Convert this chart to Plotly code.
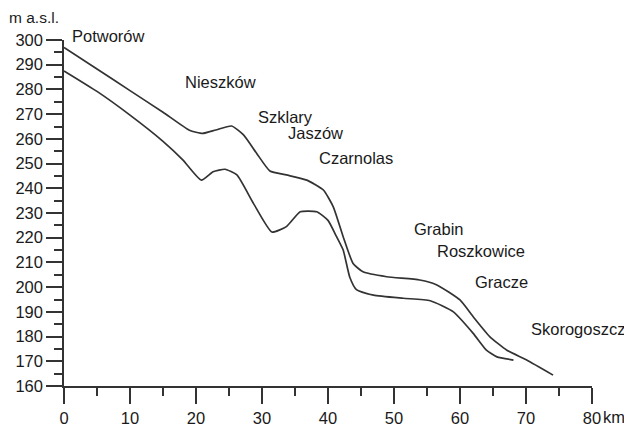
import plotly.graph_objects as go

# Upper profile (km, m a.s.l.)
upper_km = [0, 5, 10, 15, 19, 21, 23, 25.4, 27.2, 29.2, 31.2, 33.7, 36.8, 39.3, 40.8, 42.3,
            43.8, 45.3, 48.9, 53.9, 56.5, 60, 62, 64.5, 67.1, 70.1, 74.1]
upper_m = [297, 288.3, 279.5, 270.8, 263.5, 262.2, 263.6, 265.2, 261.6, 254.1, 247, 245.4,
           243.3, 239.3, 232.5, 220.4, 209.6, 206.2, 204.2, 202.9, 200.9, 194.8, 188, 180,
           174.5, 170.5, 164.4]

# Lower profile (km, m a.s.l.)
lower_km = [0, 5, 10, 15, 18, 20.8, 22.6, 24.4, 26.2, 28.7, 31.5, 33.7, 35.8, 38.3, 40,
            41.3, 42.3, 43.3, 44.3, 46.9, 51.4, 55.5, 59, 62, 64, 65.6, 68.1]
lower_m = [287.5, 279.2, 269.6, 259, 251.5, 243.3, 246.7, 247.7, 245.4, 233.9, 222.3,
           224.5, 230.5, 230.5, 227, 220.4, 215, 204, 199, 196.8, 195.5, 194.5, 190, 181.3,
           174.5, 171.8, 170.5]

# Place names with label anchor positions (km, m)
places = ["Potworów", "Nieszków", "Szklary", "Jaszów", "Czarnolas", "Grabin",
          "Roszkowice", "Gracze", "Skorogoszcz"]
place_km = [0.9, 18.0, 29.1, 33.7, 38.3, 52.7, 56.2, 61.9, 70.5]
place_m = [301.6, 283.0, 268.8, 262.5, 252.1, 223.4, 214.7, 202.2, 182.9]

x_ticks = [0, 10, 20, 30, 40, 50, 60, 70, 80]
y_ticks = [160, 170, 180, 190, 200, 210, 220, 230, 240, 250, 260, 270, 280, 290, 300]

FONT = "Liberation Sans, Arial, Helvetica, sans-serif"
LINE = "#333333"
TXT = "#1a1a1a"
FS = 16.5

fig = go.Figure()
for xs, ys in [(upper_km, upper_m), (lower_km, lower_m)]:
    fig.add_trace(go.Scatter(x=xs, y=ys, mode="lines",
                             line=dict(color=LINE, width=1.7, shape="spline", smoothing=0.5),
                             showlegend=False, hoverinfo="skip", cliponaxis=False))

Y0, Y1 = 160, 300
for name, xk, ym in zip(places, place_km, place_m):
    # place in paper coordinates along y so labels above the range stay visible
    fig.add_annotation(x=xk, y=(ym - Y0) / (Y1 - Y0), xref="x", yref="paper", text=name,
                       showarrow=False, xanchor="left", yanchor="middle",
                       font=dict(family=FONT, size=FS, color=TXT))

fig.add_annotation(x=0, y=1.0, xref="paper", yref="paper", text="m a.s.l.", showarrow=False,
                   xanchor="left", yanchor="bottom", xshift=-57, yshift=12,
                   font=dict(family=FONT, size=FS - 1, color=TXT))
fig.add_annotation(x=1.0, y=0, xref="paper", yref="paper", text="km", showarrow=False,
                   xanchor="left", yanchor="top", xshift=9, yshift=-20,
                   font=dict(family=FONT, size=FS, color=TXT))

axis_common = dict(showgrid=False, zeroline=False, showline=True, linecolor=LINE, linewidth=1.5,
                   ticks="outside", ticklen=16, tickwidth=1.5, tickcolor=LINE, automargin=False,
                   tickfont=dict(family=FONT, size=FS, color=TXT))
fig.update_xaxes(range=[0, 80], tickvals=x_ticks, ticktext=[str(v) for v in x_ticks],
                 minor=dict(dtick=5, ticks="outside", ticklen=8, tickwidth=1.5, tickcolor=LINE),
                 **axis_common)
fig.update_yaxes(range=[Y0, Y1], tickvals=y_ticks, ticktext=[str(v) for v in y_ticks],
                 minor=dict(dtick=5, ticks="outside", ticklen=8, tickwidth=1.5, tickcolor=LINE),
                 **axis_common)

# page body has an 8px default margin, so offsets are reduced by 8px
fig.update_layout(width=624, height=419, margin=dict(l=56, r=40, t=32, b=41, autoexpand=False),
                  paper_bgcolor="white", plot_bgcolor="white")

fig.write_html("out.html")
